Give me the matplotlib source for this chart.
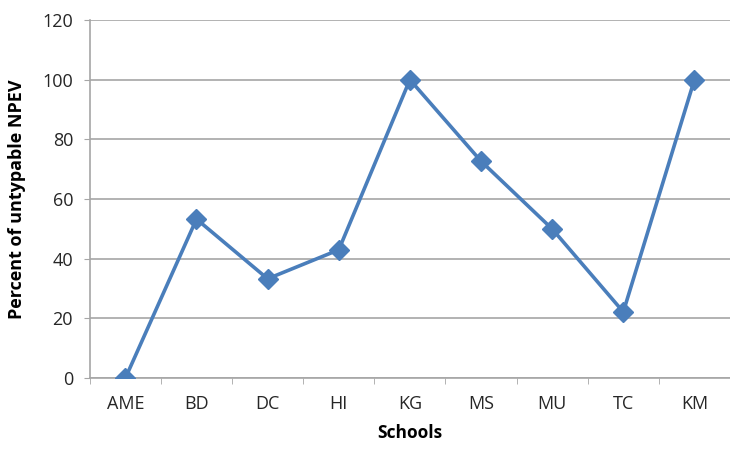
import numpy as np
import matplotlib.pyplot as plt

schools = ["AME", "BD", "DC", "HI", "KG", "MS", "MU", "TC", "KM"]
percent_untypable = [0, 53.3, 33.3, 43, 100, 72.7, 50, 22.2, 100]
y_ticks = [0, 20, 40, 60, 80, 100, 120]

plt.rcParams['font.family'] = ['Open Sans', 'DejaVu Sans']

fig = plt.figure(figsize=(7.3, 4.54), dpi=100)
ax = fig.add_axes([0.123, 0.167, 0.877, 0.789])

x = np.arange(len(schools))
ax.plot(x, percent_untypable, color='#4A7EBB', linewidth=2.6,
        marker='D', markersize=10, markerfacecolor='#4A7EBB',
        markeredgecolor='#4A7EBB', zorder=3)

ax.set_xlim(-0.5, len(schools) - 0.5)
ax.set_ylim(0, 120)
ax.set_yticks(y_ticks)
ax.set_xticks(x)
ax.set_xticklabels(schools)
ax.set_xticks(np.arange(-0.5, len(schools), 1), minor=True)

ax.grid(axis='y', color='#A6A6A6', linewidth=1.2)
ax.set_axisbelow(True)
for s in ['top', 'right']:
    ax.spines[s].set_visible(False)
for s in ['left', 'bottom']:
    ax.spines[s].set_color('#A6A6A6')
    ax.spines[s].set_linewidth(1.2)

ax.tick_params(axis='x', which='major', length=0, pad=12, labelsize=13, colors='#262626')
ax.tick_params(axis='x', which='minor', length=4, color='#A6A6A6')
ax.tick_params(axis='y', length=4, color='#A6A6A6', labelsize=13, labelcolor='#262626', pad=8)

ax.set_xlabel("Schools", fontsize=12.5, fontweight='bold', labelpad=8)
ax.set_ylabel("Percent of untypable NPEV", fontsize=13, fontweight='bold', labelpad=12)

fig.savefig("out.png", dpi=100)
